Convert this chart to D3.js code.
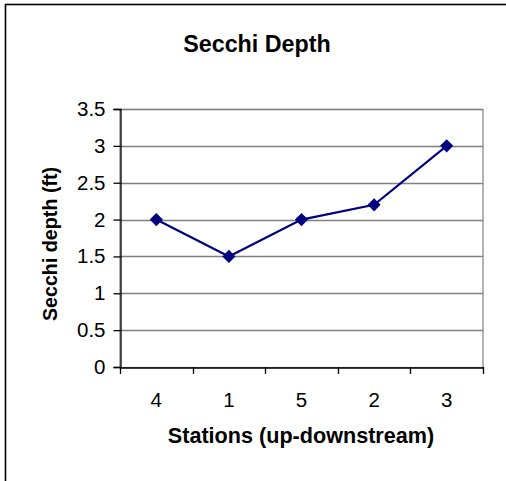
<!DOCTYPE html>
<html>
<head>
<meta charset="utf-8">
<script src="https://cdn.jsdelivr.net/npm/d3@7"></script>
<style>
html,body{margin:0;padding:0;background:#fff;}
svg{display:block;font-family:Arial,"Liberation Sans",sans-serif;}
</style>
</head>
<body>
<svg id="chart" width="506" height="481"></svg>
<script>
const categories = ["4","1","5","2","3"];
const values = [2, 1.5, 2, 2.2, 3];
const yTicks = [0, 0.5, 1, 1.5, 2, 2.5, 3, 3.5];
const yTickLabels = ["0","0.5","1","1.5","2","2.5","3","3.5"];
const title = "Secchi Depth";
const xTitle = "Stations (up-downstream)";
const yTitle = "Secchi depth (ft)";

const svg = d3.select("#chart");
const m = {left:120, right:483, top:109, bottom:367};

// outer chart border
svg.append("rect").attr("x",5.5).attr("y",4.5).attr("width",700).attr("height",700)
  .attr("fill","#fff").attr("stroke","#000").attr("stroke-width",1.6);

const x = d3.scaleBand().domain(categories).range([m.left, m.right]).padding(0);
const y = d3.scaleLinear().domain([0, 3.5]).range([m.bottom, m.top]);

// plot area border
svg.append("rect").attr("x",m.left).attr("y",m.top+0.5)
  .attr("width",m.right-m.left).attr("height",m.bottom-m.top)
  .attr("fill","none").attr("stroke","#808080").attr("stroke-width",1.2);

// gridlines
svg.append("g").selectAll("line").data(yTicks.filter(d=>d>0)).join("line")
  .attr("x1",m.left).attr("x2",m.right)
  .attr("y1",d=>Math.round(y(d))+0.5).attr("y2",d=>Math.round(y(d))+0.5)
  .attr("stroke","#808080").attr("stroke-width",1.3);

// y axis
const yAxis = d3.axisLeft(y).tickValues(yTicks)
  .tickFormat((d,i)=>yTickLabels[i]).tickSize(7).tickPadding(8);
const gy = svg.append("g").attr("transform",`translate(${m.left+0.5},0)`).call(yAxis);
gy.select(".domain").attr("stroke","#000").attr("stroke-width",1.3);
gy.selectAll(".tick line").attr("stroke","#000").attr("stroke-width",1.3);
gy.selectAll(".tick text").attr("font-size",20.5).attr("fill","#000")
  .attr("font-family","Arial,'Liberation Sans',sans-serif");

// x axis
const xAxis = d3.axisBottom(x).tickSize(0).tickPadding(25);
const gx = svg.append("g").attr("transform",`translate(0,${m.bottom+0.5})`).call(xAxis);
gx.select(".domain").attr("stroke","#000").attr("stroke-width",1.3);
gx.selectAll(".tick text").attr("font-size",20.5).attr("fill","#000")
  .attr("font-family","Arial,'Liberation Sans',sans-serif");
// category boundary ticks
const bounds = categories.map(c=>x(c)).concat([x(categories[categories.length-1])+x.bandwidth()]);
svg.append("g").selectAll("line").data(bounds).join("line")
  .attr("x1",d=>Math.round(d)+0.5).attr("x2",d=>Math.round(d)+0.5)
  .attr("y1",m.bottom).attr("y2",m.bottom+7)
  .attr("stroke","#000").attr("stroke-width",1.3);

// line
const cx = c => x(c) + x.bandwidth()/2;
const line = d3.line().x((d,i)=>cx(categories[i])).y(d=>y(d));
svg.append("path").datum(values).attr("d",line)
  .attr("fill","none").attr("stroke","#000080").attr("stroke-width",2.2);

// markers (diamonds)
const sym = d3.symbol().type(d3.symbolDiamond2).size(110);
svg.append("g").selectAll("path").data(values).join("path")
  .attr("d",sym)
  .attr("transform",(d,i)=>`translate(${cx(categories[i])},${y(d)})`)
  .attr("fill","#000080");

// titles
svg.append("text").attr("x",257).attr("y",52).attr("text-anchor","middle")
  .attr("font-size",23.3).attr("font-weight","bold").text(title);
svg.append("text").attr("x",301).attr("y",443).attr("text-anchor","middle")
  .attr("font-size",21.6).attr("font-weight","bold").text(xTitle);
svg.append("text").attr("transform","translate(57,244) rotate(-90)")
  .attr("text-anchor","middle").attr("font-size",19.7).attr("font-weight","bold").text(yTitle);
</script>
</body>
</html>
